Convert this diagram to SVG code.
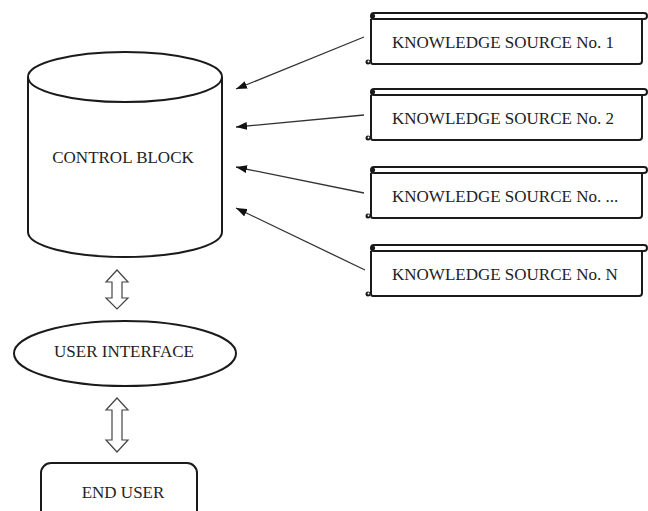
<svg xmlns="http://www.w3.org/2000/svg" width="648" height="511" viewBox="0 0 648 511">
<style>
text{font-family:"Liberation Serif","Times New Roman",serif;font-size:17px;fill:#222;}
.sh{fill:#fff;stroke:#1a1a1a;stroke-width:2;}
.sc{fill:none;stroke:#1a1a1a;stroke-width:2;}
.cn{stroke:#333;stroke-width:1.3;fill:none;}
.da{fill:#fff;stroke:#444;stroke-width:1.2;stroke-linejoin:miter;}
</style>
<defs>
<marker id="ah" viewBox="0 0 11 8" refX="11" refY="4" markerWidth="11" markerHeight="8" markerUnits="userSpaceOnUse" orient="auto">
<path d="M0,0 L11,4 L0,8 Z" fill="#111"/>
</marker>
<g id="scroll">
<path class="sc" d="M371,6 V49 Q371,51 373,51 H639 Q642,51 642,48 V6"/>
<rect class="sc" x="371" y="0" width="276" height="6" rx="3"/>
<circle cx="373" cy="3" r="2.2" fill="#1a1a1a"/>
<circle cx="368" cy="49" r="2.5" fill="#1a1a1a"/>
<circle cx="368.5" cy="48.5" r="0.9" fill="#fff"/>
</g>
</defs>
<rect width="648" height="511" fill="#fff"/>

<g id="control-block">
<path class="sh" d="M28,77 V232 A97,25 0 0 0 222,232 V77"/>
<ellipse class="sh" cx="125" cy="77" rx="97" ry="25"/>
<text x="123" y="163" text-anchor="middle">CONTROL BLOCK</text>
</g>

<g id="ks1">
<use href="#scroll" y="13"/>
<text x="392" y="48">KNOWLEDGE SOURCE No. 1</text>
</g>
<g id="ks2">
<use href="#scroll" y="89"/>
<text x="392" y="124">KNOWLEDGE SOURCE No. 2</text>
</g>
<g id="ks3">
<use href="#scroll" y="167"/>
<text x="392" y="202">KNOWLEDGE SOURCE No. ...</text>
</g>
<g id="ksN">
<use href="#scroll" y="245"/>
<text x="392" y="280">KNOWLEDGE SOURCE No. N</text>
</g>

<g id="user-interface">
<ellipse class="sh" cx="125" cy="353.5" rx="111" ry="32.5"/>
<text x="124" y="357" text-anchor="middle">USER INTERFACE</text>
</g>

<g id="end-user">
<rect class="sh" x="41" y="463" width="156" height="70" rx="10"/>
<text x="123" y="498" text-anchor="middle">END USER</text>
</g>

<g id="connectors">
<line class="cn" x1="364" y1="37" x2="236" y2="89" marker-end="url(#ah)"/>
<line class="cn" x1="364" y1="115" x2="236" y2="127" marker-end="url(#ah)"/>
<line class="cn" x1="364" y1="193" x2="236" y2="167" marker-end="url(#ah)"/>
<line class="cn" x1="365" y1="270" x2="236" y2="208" marker-end="url(#ah)"/>
<path class="da" d="M117,270 L128,282 H122 V298 H128 L117,309 L106,298 H112 V282 H106 Z"/>
<path class="da" d="M117,398 L128,410 H122 V440 H128 L117,452 L106,440 H112 V410 H106 Z"/>
</g>
</svg>
